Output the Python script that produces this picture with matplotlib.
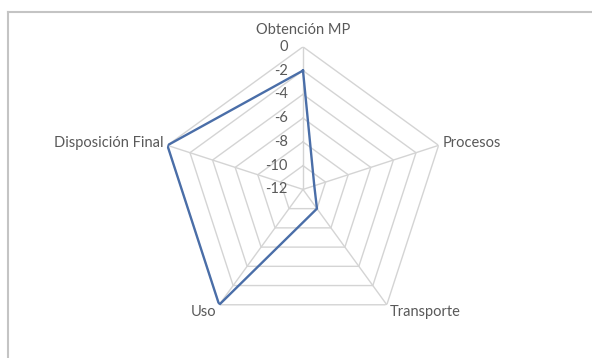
import numpy as np
import matplotlib
matplotlib.use("Agg")
import matplotlib.pyplot as plt
from matplotlib.lines import Line2D

categories = ["Obtención MP", "Procesos", "Transporte", "Uso", "Disposición Final"]
values = [-2, -11, -10, 0, 0]
r_ticks = [0, -2, -4, -6, -8, -10, -12]
r_min, r_max = -12, 0

GRID = "#d4d4d4"
TEXT = "#595959"
LINE = "#4a6ea8"
plt.rcParams["font.family"] = ["Lato", "DejaVu Sans"]

fig = plt.figure(figsize=(5.92, 3.58), dpi=100)
ax = fig.add_axes([0.2709, 0.0726, 0.4818, 0.7966], projection="polar")
ax.set_theta_offset(np.pi / 2)
ax.set_theta_direction(-1)
ax.set_ylim(r_min, r_max)
ax.grid(False)
ax.spines["polar"].set_visible(False)
ax.set_xticks([])
ax.set_yticks([])
ax.patch.set_alpha(0)

n = len(categories)
angles = np.linspace(0, 2 * np.pi, n, endpoint=False)
closed = np.append(angles, angles[0])

# pentagon rings
for r in r_ticks[:-1]:
    ax.plot(closed, [r] * (n + 1), color=GRID, lw=1.0, zorder=1)
# spokes
for a in angles:
    ax.plot([a, a], [r_min, r_max], color=GRID, lw=1.0, zorder=1)

ax.plot(closed, values + values[:1], color=LINE, lw=1.7, zorder=3)

# radial tick labels
for r in r_ticks:
    ax.annotate(str(r), xy=(0, r), xytext=(-11, 0), textcoords="offset points",
                ha="right", va="center", fontsize=10.5, color=TEXT, annotation_clip=False)

# category labels
offsets = [((0, 7), "center", "bottom"),
           ((3, 2), "left", "center"),
           ((2, -5), "left", "center"),
           ((-2, -5), "right", "center"),
           ((-3, 2), "right", "center")]
for a, lab, (off, ha, va) in zip(angles, categories, offsets):
    ax.annotate(lab, xy=(a, r_max), xytext=off, textcoords="offset points",
                ha=ha, va=va, fontsize=10.5, color=TEXT, annotation_clip=False)

# chart frame (top and left edges visible)
fig.add_artist(Line2D([8 / 592, 1], [1 - 12 / 358] * 2, color="#c4c4c4", lw=1.5))
fig.add_artist(Line2D([8 / 592] * 2, [0, 1 - 12 / 358], color="#c4c4c4", lw=1.5))

fig.savefig("out.png", dpi=100)
